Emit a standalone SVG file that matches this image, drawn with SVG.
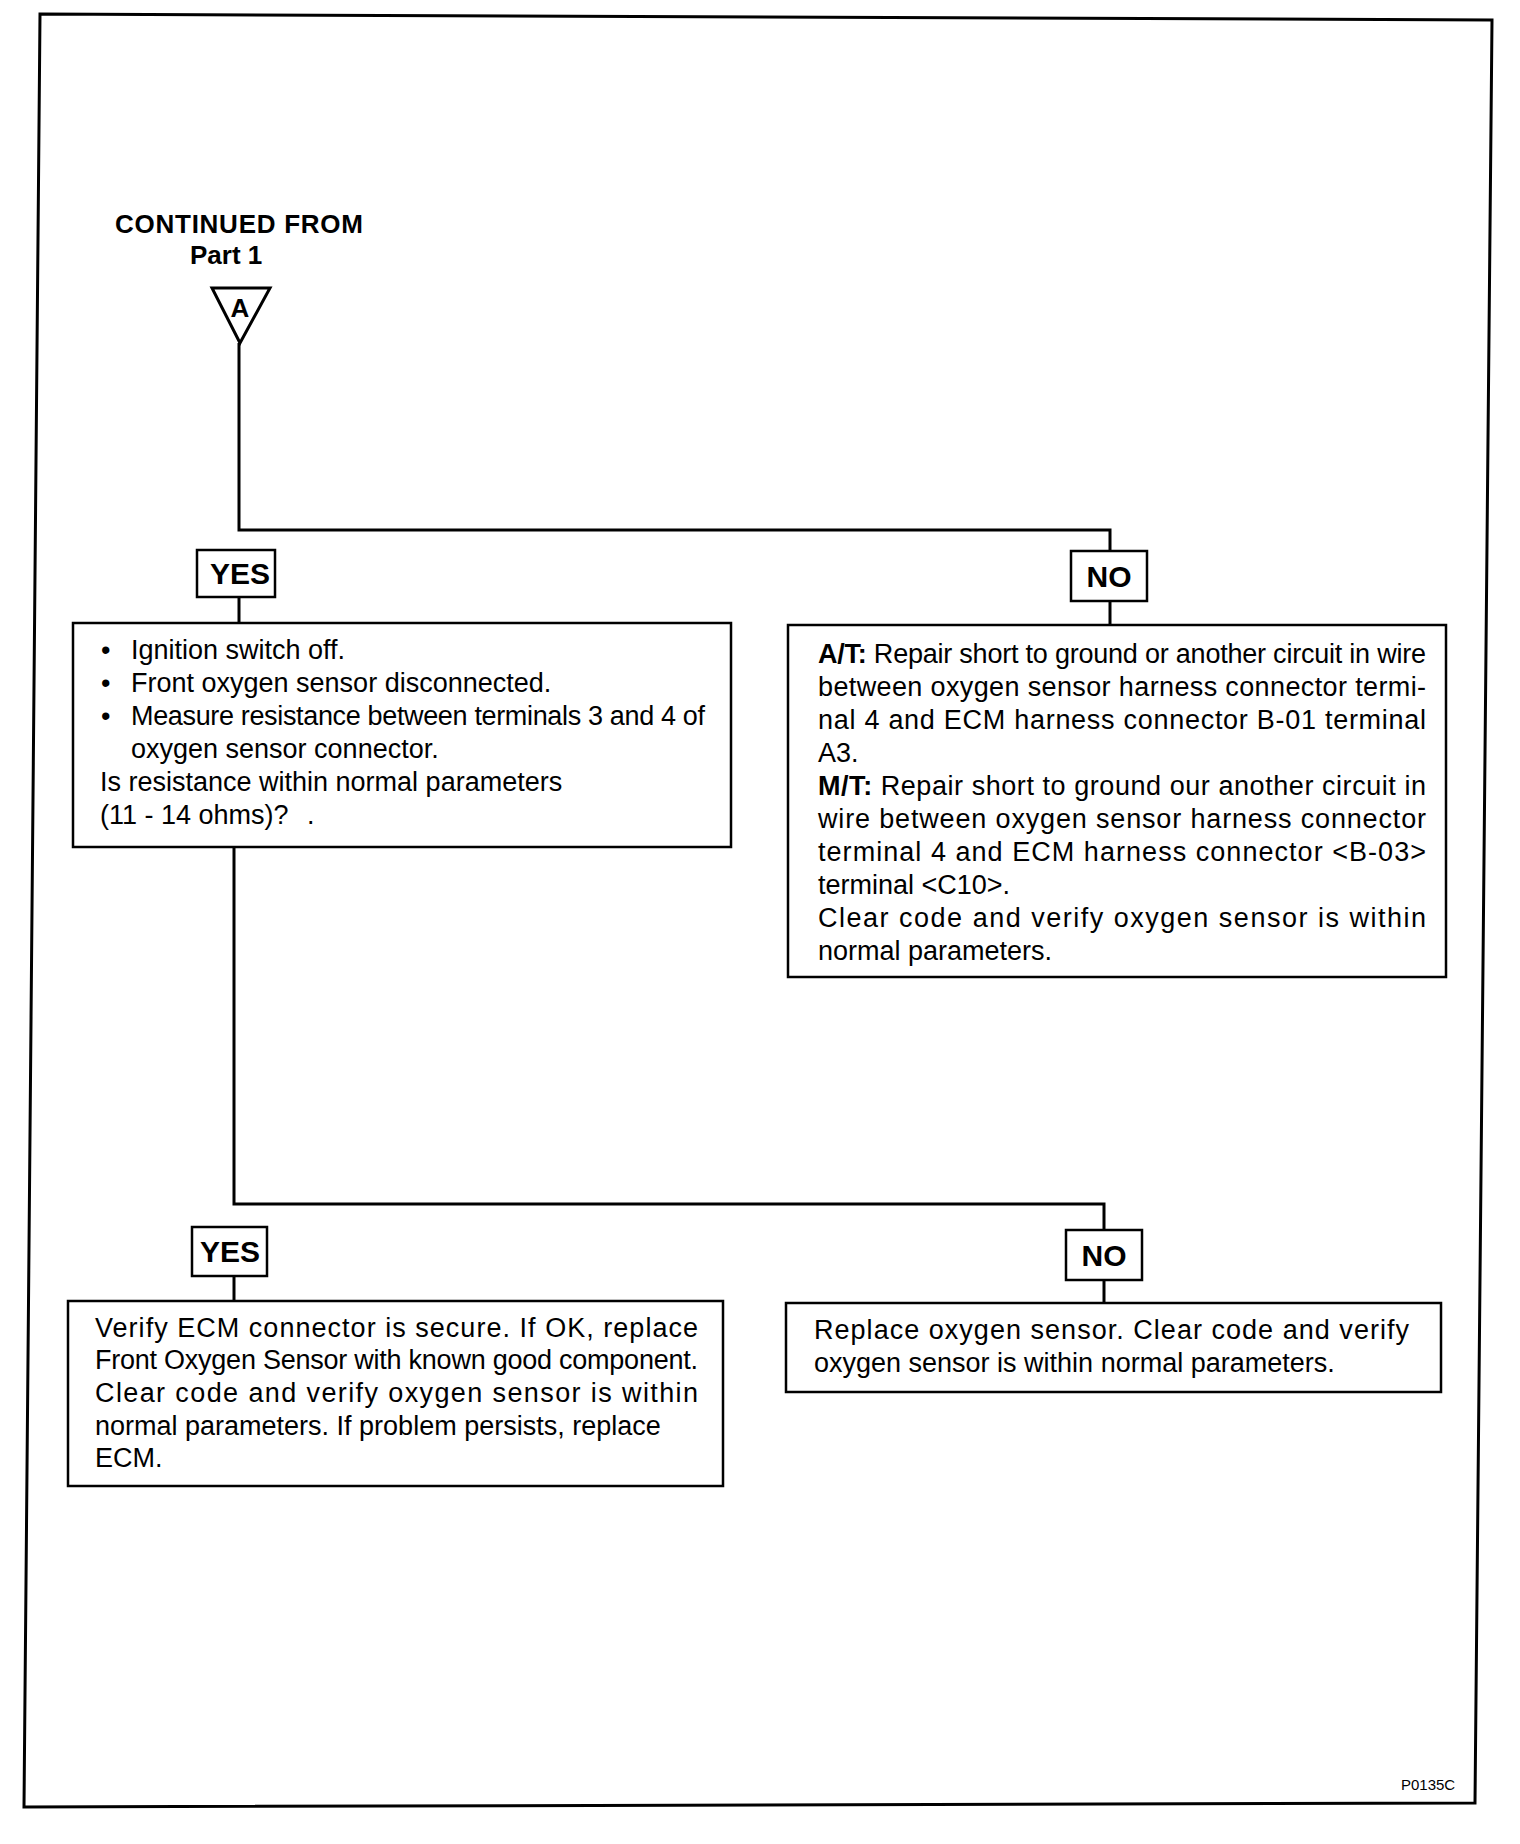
<svg xmlns="http://www.w3.org/2000/svg" width="1520" height="1844" viewBox="0 0 1520 1844">
<style>
  .t { font-family: "Liberation Sans", Arial, sans-serif; font-size: 27px; fill: #000; }
  .b { font-weight: bold; }
  .head { font-family: "Liberation Sans", Arial, sans-serif; font-size: 26px; font-weight: bold; fill: #000; }
  .code { font-family: "Liberation Sans", Arial, sans-serif; font-size: 15px; fill: #000; }
  .lbl { font-family: "Liberation Sans", Arial, sans-serif; font-size: 30px; font-weight: bold; fill: #000; text-anchor: middle; }
  .box { fill: #fff; stroke: #000; stroke-width: 2.5; }
  .wire { fill: none; stroke: #000; stroke-width: 3; }
</style>
<rect x="0" y="0" width="1520" height="1844" fill="#fff"/>
<polygon points="40,14 1492,20 1475,1803 24,1807" fill="none" stroke="#000" stroke-width="3"/>

<g id="connectors">
  <path class="wire" d="M239,343 V530 H1110 V551"/>
  <path class="wire" d="M239,597 V623"/>
  <path class="wire" d="M1110,601 V625"/>
  <path class="wire" d="M234,847 V1204 H1104 V1230"/>
  <path class="wire" d="M234,1276 V1301"/>
  <path class="wire" d="M1104,1280 V1303"/>
</g>

<g id="start">
  <text class="head" x="115" y="233" textLength="248">CONTINUED FROM</text>
  <text class="head" x="190" y="264">Part 1</text>
  <polygon points="212,288 270,288 240,343" fill="#fff" stroke="#000" stroke-width="3"/>
  <text class="head" x="240" y="317" text-anchor="middle">A</text>
</g>

<g id="yes1">
  <rect class="box" x="197" y="550" width="78" height="47"/>
  <text class="lbl" x="240" y="584">YES</text>
</g>
<g id="no1">
  <rect class="box" x="1071" y="551" width="76" height="50"/>
  <text class="lbl" x="1109" y="587">NO</text>
</g>

<g id="check">
  <rect class="box" x="73" y="623" width="658" height="224"/>
  <text class="t" x="101" y="659">•</text>
  <text class="t" x="131" y="659">Ignition switch off.</text>
  <text class="t" x="101" y="692">•</text>
  <text class="t" x="131" y="692">Front oxygen sensor disconnected.</text>
  <text class="t" x="101" y="725">•</text>
  <text class="t" x="131" y="725" textLength="574">Measure resistance between terminals 3 and 4 of</text>
  <text class="t" x="131" y="758">oxygen sensor connector.</text>
  <text class="t" x="100" y="791">Is resistance within normal parameters</text>
  <text class="t" x="100" y="824">(11 - 14 ohms)?</text>
  <text class="t" x="307" y="824">.</text>
</g>

<g id="repair-short">
  <rect class="box" x="788" y="625" width="658" height="352"/>
  <text class="t" x="818" y="663" textLength="608"><tspan class="b">A/T:</tspan> Repair short to ground or another circuit in wire</text>
  <text class="t" x="818" y="696" textLength="608">between oxygen sensor harness connector termi-</text>
  <text class="t" x="818" y="729" textLength="608">nal 4 and ECM harness connector B-01 terminal</text>
  <text class="t" x="818" y="762">A3.</text>
  <text class="t" x="818" y="795" textLength="608"><tspan class="b">M/T:</tspan> Repair short to ground our another circuit in</text>
  <text class="t" x="818" y="828" textLength="608">wire between oxygen sensor harness connector</text>
  <text class="t" x="818" y="861" textLength="608">terminal 4 and ECM harness connector &lt;B-03&gt;</text>
  <text class="t" x="818" y="894">terminal &lt;C10&gt;.</text>
  <text class="t" x="818" y="927" textLength="608">Clear code and verify oxygen sensor is within</text>
  <text class="t" x="818" y="960">normal parameters.</text>
</g>

<g id="yes2">
  <rect class="box" x="192" y="1227" width="75" height="49"/>
  <text class="lbl" x="230" y="1262">YES</text>
</g>
<g id="no2">
  <rect class="box" x="1066" y="1230" width="76" height="50"/>
  <text class="lbl" x="1104" y="1266">NO</text>
</g>

<g id="replace-ecm">
  <rect class="box" x="68" y="1301" width="655" height="185"/>
  <text class="t" x="95" y="1337" textLength="603">Verify ECM connector is secure. If OK, replace</text>
  <text class="t" x="95" y="1369" textLength="603">Front Oxygen Sensor with known good component.</text>
  <text class="t" x="95" y="1402" textLength="603">Clear code and verify oxygen sensor is within</text>
  <text class="t" x="95" y="1435">normal parameters. If problem persists, replace</text>
  <text class="t" x="95" y="1467">ECM.</text>
</g>

<g id="replace-sensor">
  <rect class="box" x="786" y="1303" width="655" height="89"/>
  <text class="t" x="814" y="1339" textLength="595">Replace oxygen sensor. Clear code and verify</text>
  <text class="t" x="814" y="1372">oxygen sensor is within normal parameters.</text>
</g>

<text class="code" x="1401" y="1790">P0135C</text>
</svg>
